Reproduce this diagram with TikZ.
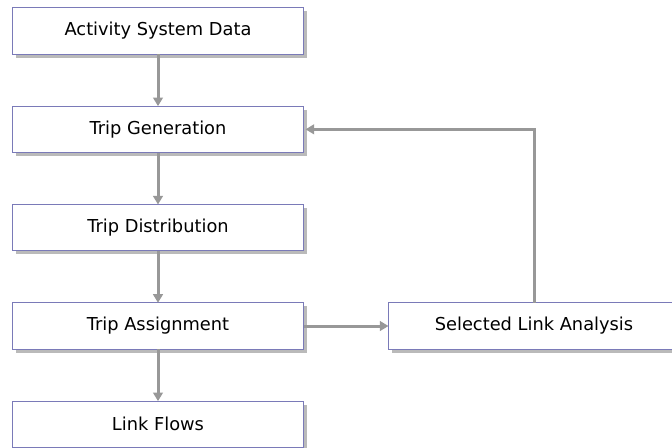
\documentclass[tikz,border=0pt]{standalone}
\usepackage{fontspec}
\setmainfont{DejaVu Sans}
\usetikzlibrary{positioning,shadows,arrows.meta}
\definecolor{frame}{RGB}{122,122,184}
\definecolor{linkgray}{RGB}{152,152,152}
\definecolor{shade}{RGB}{186,186,186}

\begin{document}
\begin{tikzpicture}[node distance=1.56cm,
    flowbox/.style={rectangle, draw=frame, line width=0.8pt, fill=white,
      minimum width=8.73cm, minimum height=1.39cm, inner sep=0pt, outer sep=0pt,
      font=\fontsize{15.2}{18}\selectfont,
      drop shadow={shadow xshift=0.1cm, shadow yshift=-0.1cm, fill=shade, opacity=1}},
    link/.style={draw=linkgray, line width=0.09cm,
      -{Triangle[width=0.29cm,length=0.26cm]}}]
    \useasboundingbox (0,0) rectangle (20.16,-13.41);
    \node[flowbox] (data) at (4.74,-0.93) {Activity System Data};
    \node[flowbox, below=of data] (gen) {Trip Generation};
    \node[flowbox, below=of gen] (dist) {Trip Distribution};
    \node[flowbox, below=of dist] (assign) {Trip Assignment};
    \node[flowbox, below=of assign] (flows) {Link Flows};
    \node[flowbox, right=2.55cm of assign] (sla) {Selected Link Analysis};
    \draw[link] (data) -- (gen);
    \draw[link] (gen) -- (dist);
    \draw[link] (dist) -- (assign);
    \draw[link] (assign) -- (flows);
    \draw[link] (assign) -- (sla);
    % feedback loop back into trip generation
    \draw[link] (sla.north) |- ([xshift=0.06cm]gen.east);
\end{tikzpicture}
\end{document}
